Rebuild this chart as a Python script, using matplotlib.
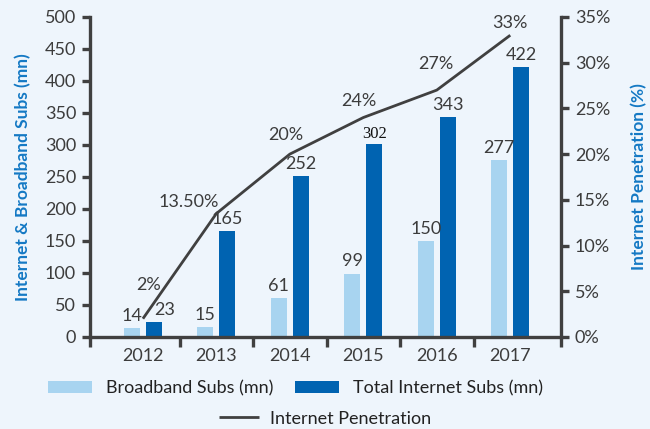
import matplotlib.pyplot as plt
import numpy as np
from matplotlib.ticker import FuncFormatter, MultipleLocator

years = ["2012", "2013", "2014", "2015", "2016", "2017"]
broadband_subs = [14, 15, 61, 99, 150, 277]
internet_subs = [23, 165, 252, 302, 343, 422]
penetration = [2, 13.5, 20, 24, 27, 33]
penetration_labels = ["2%", "13.50%", "20%", "24%", "27%", "33%"]

# colours
BG = "#eef5fc"
LIGHT = "#a8d4f0"
DARK = "#0063b1"
GREY = "#404040"
TEXT = "#3c3c3c"
LABEL_BLUE = "#1479c4"
FS = 13

plt.rcParams["font.family"] = ["Lato", "DejaVu Sans"]

fig = plt.figure(figsize=(6.5, 4.29), dpi=100, facecolor=BG)
ax = fig.add_axes([0.1385, 0.2145, 0.7245, 0.746])
ax.set_facecolor(BG)
ax2 = ax.twinx()

x = np.arange(len(years))
w = 0.22
off = 0.15
b1 = ax.bar(x - off, broadband_subs, w, color=LIGHT, label="Broadband Subs (mn)")
b2 = ax.bar(x + off, internet_subs, w, color=DARK, label="Total Internet Subs (mn)")

for xi, v in zip(x - off, broadband_subs):
    ax.annotate(str(v), (xi, v), xytext=(0, 3), textcoords="offset points",
                ha="center", va="bottom", fontsize=FS, color=TEXT)
dark_dx = [8, 0, 0, 0, 0, 0]
for i, (xi, v) in enumerate(zip(x + off, internet_subs)):
    if v == 302:
        # this one label is set in a serif face in the original
        ax.annotate(str(v), (xi, v), xytext=(0, 1), textcoords="offset points",
                    ha="center", va="bottom", fontsize=12, color="#111111",
                    family=["Liberation Serif", "DejaVu Serif"])
        continue
    ax.annotate(str(v), (xi, v), xytext=(dark_dx[i], 3), textcoords="offset points",
                ha="center", va="bottom", fontsize=FS, color=TEXT)

ax.set_xlim(-0.72, 5.69)
ax.set_ylim(0, 500)
ax2.set_ylim(0, 35)

(line,) = ax2.plot(x, penetration, color=GREY, lw=2.0, label="Internet Penetration",
                   solid_capstyle="butt")
pct_offsets = [(4, 24), (-20, 8), (-3, 14), (-3, 12), (-1, 19), (0, 9)]
for xi, v, lab, (dx, dy) in zip(x, penetration, penetration_labels, pct_offsets):
    ax2.annotate(lab, (xi, v), xytext=(dx, dy), textcoords="offset points",
                 ha="center", va="center", fontsize=FS, color=TEXT)

# axes styling
for a in (ax, ax2):
    a.spines["top"].set_visible(False)
    for s in ("left", "right", "bottom"):
        a.spines[s].set_color(GREY)
        a.spines[s].set_linewidth(2.4)
ax.spines["right"].set_visible(False)
ax2.spines["left"].set_visible(False)
ax2.spines["bottom"].set_visible(False)

ax.yaxis.set_major_locator(MultipleLocator(50))
ax2.yaxis.set_major_locator(MultipleLocator(5))
ax2.yaxis.set_major_formatter(FuncFormatter(lambda v, p: f"{v:.0f}%"))
ax.tick_params(axis="y", length=6, width=2.4, color=GREY, labelsize=FS,
               labelcolor=TEXT, pad=4)
ax2.tick_params(axis="y", length=6, width=2.4, color=GREY, labelsize=FS,
                labelcolor=TEXT, pad=4)

lo, hi = ax.get_xlim()
ax.set_xticks(x)
ax.set_xticklabels(years)
ax.set_xticks([lo] + list(x[:-1] + 0.5) + [hi], minor=True)
ax.tick_params(axis="x", which="major", length=0, labelsize=FS, labelcolor=TEXT, pad=8)
ax.tick_params(axis="x", which="minor", length=7, width=2.4, color=GREY)

ax.set_ylabel("Internet & Broadband Subs (mn)", color=LABEL_BLUE, fontsize=12.5,
              fontweight="bold", labelpad=10)
ax2.set_ylabel("Internet Penetration (%)", color=LABEL_BLUE, fontsize=12.5,
               fontweight="bold", labelpad=15)

fig.legend(handles=[b1, b2], loc="center", bbox_to_anchor=(0.455, 0.095), ncol=2,
           frameon=False, fontsize=FS, handlelength=2.4, handleheight=0.7,
           columnspacing=1.2, handletextpad=0.8, labelcolor="#222222")
fig.legend(handles=[line], loc="center", bbox_to_anchor=(0.5, 0.024), frameon=False,
           fontsize=FS, handlelength=2.2, handletextpad=0.6, labelcolor="#222222")

fig.savefig("out.png", dpi=100, facecolor=BG)
